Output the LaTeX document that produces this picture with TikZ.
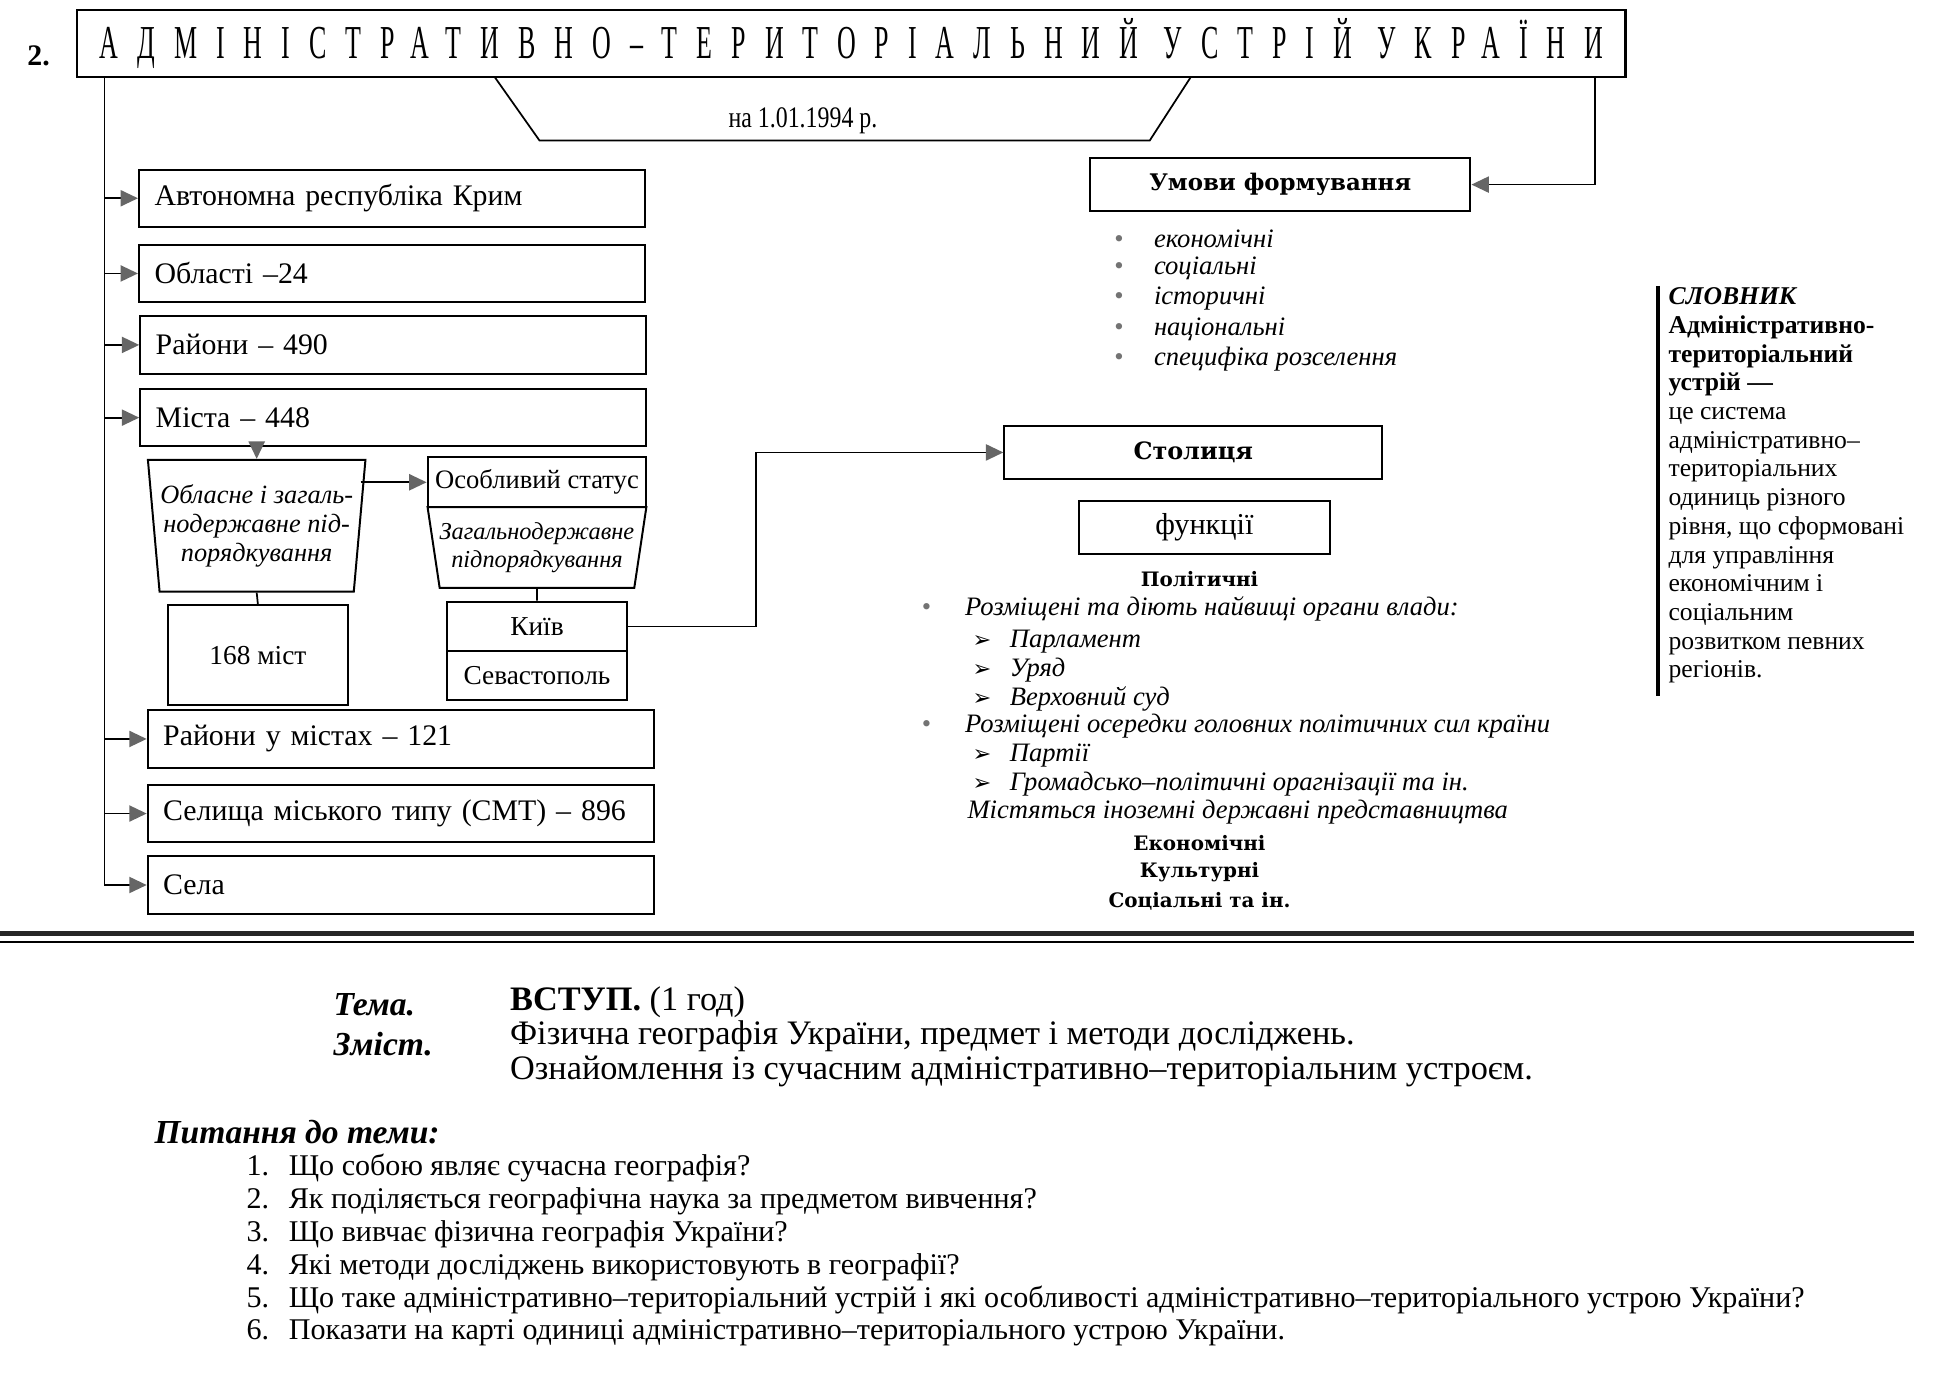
\documentclass[tikz,border=0pt]{standalone}
\usepackage{fontspec}
\setmainfont{Liberation Serif}
\newfontfamily\bkfont{DejaVu Serif}
\newfontfamily\dvsans{DejaVu Sans}
\newfontfamily\ttlfont[LetterSpace=73]{Liberation Serif}
\usepackage{graphicx}
\usetikzlibrary{arrows.meta,shapes.geometric,positioning,calc}

\newcommand{\bul}[1]{\makebox[#1][l]{\textcolor{black!55}{•}}}
\newcommand{\arw}{\makebox[15pt][l]{{\dvsans\fontsize{9}{9}\selectfont ➢}}}

\begin{document}
\begin{tikzpicture}[x=0.5pt,y=-0.5pt,
  tag/.style={draw, line width=0.8pt, anchor=west, minimum width=203.5pt,
    minimum height=23pt, text width=191pt, inner xsep=6pt, align=left,
    font=\fontsize{12}{14}\selectfont},
  cell/.style={draw, line width=0.8pt, minimum width=72.5pt, inner sep=0pt,
    font=\fontsize{11}{13}\selectfont},
  trap/.style={trapezium, draw, line width=0.8pt, trapezium stretches body,
    inner sep=0pt, align=center},
  arr/.style={line width=0.7pt, -{Triangle[length=7pt,width=6.5pt,color=black!60]}},
  lnk/.style={line width=0.7pt},
  litem/.style={anchor=west, inner sep=0pt, font=\fontsize{10.7}{12}\selectfont\itshape},
  bhead/.style={inner sep=0pt, font=\bkfont\bfseries\fontsize{8}{10}\selectfont},
  btext/.style={anchor=west, inner sep=0pt, font=\fontsize{13.8}{15}\selectfont},
  qline/.style={anchor=west, inner sep=0pt, font=\fontsize{12.1}{15}\selectfont}
]
\useasboundingbox (0,0) rectangle (1568,1113);

\node[draw, line width=1.1pt, minimum width=623pt, minimum height=27pt, inner sep=0pt] (title) at (685,35)
  {\scalebox{0.55}[1]{\fontsize{19}{20}\ttlfont АДМІНІСТРАТИВНО–ТЕРИТОРІАЛЬНИЙ УСТРІЙ УКРАЇНИ}};
\node[font=\fontsize{12}{14}\selectfont\bfseries] (num) at (31,45) {2.};
\draw[lnk] (398,62) -- (434,113) -- (925,113) -- (958,62);
\node[font=\fontsize{12}{14}\selectfont] (datetxt) at (646,97) {\scalebox{0.8}[1]{на 1.01.1994 р.}};

\node[tag] (krym) at (111,159.5) {Автономна республіка Крим};
\node[tag] (obl) at (111,220) {Області –24};
\node[tag] (rai) at (112,277.5) {Райони – 490};
\node[tag] (mista) at (112,336) {Міста – 448};
\node[tag] (raim) at (118,594.5) {Райони у містах – 121};
\node[tag] (smt) at (118,654.5) {Селища міського типу (СМТ) – 896};
\node[tag] (sela) at (118,712) {Села};
\coordinate (trunk) at (84,0);

\node[trap, trapezium left angle=98, trapezium right angle=98, minimum width=87.5pt,
  minimum height=53pt, font=\fontsize{10.6}{11.75}\selectfont\itshape] (ltrap) at (206.5,423)
  {Обласне і загаль-\\нодержавне під-\\порядкування};
\node[cell, minimum height=40pt] (m168) at (207.5,527) {168 міст};
\node[cell, minimum width=88pt, minimum height=20pt, font=\fontsize{10.7}{12}\selectfont] (osob) at (432,388) {Особливий статус};
\node[trap, trapezium left angle=103.4, trapezium right angle=103.4, minimum width=88pt,
  minimum height=32.5pt, font=\fontsize{9.8}{11.5}\selectfont\itshape] (rtrap) at (432,440.5)
  {Загальнодержавне\\підпорядкування};
\node[cell, minimum height=20pt] (kyiv) at (432,504) {Київ};
\node[cell, minimum height=19.5pt] (sevas) at (432,543.5) {Севастополь};

\node[draw, line width=0.8pt, minimum width=153pt, minimum height=21.5pt,
  font=\bkfont\bfseries\fontsize{9.2}{11}\selectfont] (umovy) at (1030,148.5) {Умови формування};
\coordinate (rdrop) at (1283,148.5);
\node[litem] (u1) at (896,192) {\bul{16pt}економічні};
\node[litem] (u2) at (896,216) {\bul{16pt}соціальні};
\node[litem] (u3) at (896,240) {\bul{16pt}історичні};
\node[litem] (u4) at (896,265) {\bul{16pt}національні};
\node[litem] (u5) at (896,289) {\bul{16pt}специфіка розселення};

\node[draw, line width=0.8pt, minimum width=152pt, minimum height=21pt,
  font=\bkfont\bfseries\fontsize{9.6}{11}\selectfont] (stol) at (960,364) {Столиця};
\coordinate (bend) at (608,364);
\node[draw, line width=0.8pt, minimum width=101pt, minimum height=21.5pt,
  font=\fontsize{12.2}{14}\selectfont] (funk) at (969,424.5) {функції};
\node[bhead] (pol) at (965,466) {Політичні};
\node[litem] (p1) at (741,490) {\bul{17.5pt}Розміщені та діють найвищі органи влади:};
\node[litem] (p2) at (782,516) {\arw Парламент};
\node[litem] (p3) at (782,539) {\arw Уряд};
\node[litem] (p4) at (782,562) {\arw Верховний суд};
\node[litem] (p5) at (741,584) {\bul{17.5pt}Розміщені осередки головних політичних сил країни};
\node[litem] (p6) at (782,608) {\arw Партії};
\node[litem] (p7) at (782,631) {\arw Громадсько–політичні орагнізації та ін.};
\node[litem] (p8) at (778,653) {Містяться іноземні державні представництва};
\node[bhead] (ekon) at (965,678) {Економічні};
\node[bhead] (kult) at (965,702) {Культурні};
\node[bhead] (sots) at (965,725) {Соціальні та ін.};

\draw[line width=1.6pt] (1334,230) -- (1334,560);
\node[anchor=north west, inner sep=0pt, align=left, font=\fontsize{10.3}{11.55}\selectfont] (gloss) at (1342,231)
  {\textbf{\textit{СЛОВНИК}}\\ \textbf{Адміністративно-}\\ \textbf{територіальний}\\ \textbf{устрій —}\\
   це система\\ адміністративно–\\ територіальних\\ одиниць різного\\ рівня, що сформовані\\
   для управління\\ економічним і\\ соціальним\\ розвитком певних\\ регіонів.};

\draw[arr] (title.south -| trunk) |- (sela.west);
\draw[arr] (krym.west -| trunk) -- (krym.west);
\draw[arr] (obl.west -| trunk) -- (obl.west);
\draw[arr] (rai.west -| trunk) -- (rai.west);
\draw[arr] (mista.west -| trunk) -- (mista.west);
\draw[arr] (raim.west -| trunk) -- (raim.west);
\draw[arr] (smt.west -| trunk) -- (smt.west);
\draw[arr] (mista.south -| ltrap.north) -- (ltrap.north);
\draw[lnk] (ltrap.south) -- (m168.north);
\draw[arr] (osob.west -| ltrap.east) -- (osob.west);
\draw[lnk] (rtrap.south) -- (kyiv.north);
\draw[arr] (kyiv.east) -| (bend) -- (stol.west);
\draw[arr] (title.south -| rdrop) -- (rdrop) -- (umovy.east);

\draw[line width=2.4pt, black!85] (0,751) -- (1540,751);
\draw[line width=0.6pt] (0,758) -- (1540,758);

\node[btext, font=\fontsize{13.5}{15}\selectfont\bfseries\itshape] (tema) at (268,808) {Тема.};
\node[btext, font=\fontsize{13.5}{15}\selectfont\bfseries\itshape] (zmist) at (268,840) {Зміст.};
\node[btext] (vstup) at (410,806) {\textbf{ВСТУП.} (1 год)};
\node[btext] (zm1) at (410,834) {Фізична географія України, предмет і методи досліджень.};
\node[btext] (zm2) at (410,862) {Ознайомлення із сучасним адміністративно–територіальним устроєм.};
\node[btext, font=\fontsize{13.5}{15}\selectfont\bfseries\itshape] (pyt) at (124,911) {Питання до теми:};
\node[qline] (q1) at (198,940) {\makebox[17pt][l]{1.}Що собою являє сучасна географія?};
\node[qline] (q2) at (198,966.5) {\makebox[17pt][l]{2.}Як поділяється географічна наука за предметом вивчення?};
\node[qline] (q3) at (198,993) {\makebox[17pt][l]{3.}Що вивчає фізична географія України?};
\node[qline] (q4) at (198,1019.5) {\makebox[17pt][l]{4.}Які методи досліджень використовують в географії?};
\node[qline] (q5) at (198,1046) {\makebox[17pt][l]{5.}Що таке адміністративно–територіальний устрій і які особливості адміністративно–територіального устрою України?};
\node[qline] (q6) at (198,1072.5) {\makebox[17pt][l]{6.}Показати на карті одиниці адміністративно–територіального устрою України.};
\end{tikzpicture}
\end{document}
